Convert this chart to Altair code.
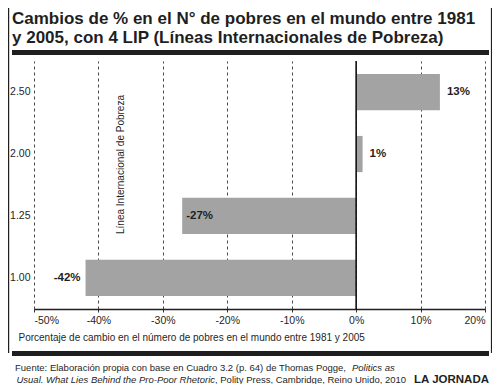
import altair as alt
import pandas as pd

# ---------------- data ----------------
lineas = ["2.50", "2.00", "1.25", "1.00"]
cambios = [13, 1, -27, -42]
posicion = ["fuera_der", "fuera_der", "dentro", "fuera_izq"]
x_ticks = [-50, -40, -30, -20, -10, 0, 10, 20]

titulo = ["Cambios de % en el N° de pobres en el mundo entre 1981",
          "y 2005, con 4 LIP (Líneas Internacionales de Pobreza)"]
eje_x = "Porcentaje de cambio en el número de pobres en el mundo entre 1981 y 2005"
eje_y = "Línea Internacional de Pobreza"
fuente_1a = "Fuente: Elaboración propia con base en Cuadro 3.2 (p. 64) de Thomas Pogge,"
fuente_1b = "Politics as"
fuente_2a = "Usual. What Lies Behind the Pro-Poor Rhetoric"
fuente_2b = ", Polity Press, Cambridge, Reino Unido, 2010"
credito = "LA JORNADA"

df = pd.DataFrame({
    "linea": lineas,
    "cambio": cambios,
    "pos": posicion,
    "etiqueta": [f"{v}%" for v in cambios],
})
one = pd.DataFrame({"k": [0]})

FONT = "Liberation Sans"
INK = "#1f1f1f"
W, H = 451, 248

xs = alt.Scale(domain=[-50, 20], nice=False, zero=False)
ys = alt.Scale(domain=lineas, paddingInner=0.415, paddingOuter=0.21)

x_axis = alt.Axis(
    values=x_ticks, labelExpr="datum.value + '%'", title=eje_x,
    grid=True, gridDash=[3, 3], gridColor="#333333", gridWidth=0.9,
    domainColor=INK, domainWidth=1.5, tickColor="#333333", tickSize=3,
    labelPadding=3, labelFont=FONT, labelFontSize=10.5, labelColor=INK,
    titleFont=FONT, titleFontSize=10, titleFontWeight="normal", titleColor=INK,
    titleAnchor="start", titleAlign="left", titleBaseline="alphabetic",
    titleX=-16, titleY=31,
)
y_axis = alt.Axis(
    title=eje_y, domain=False, ticks=False, grid=False, labelPadding=4,
    labelFont=FONT, labelFontSize=10.5, labelColor=INK,
    titleFont=FONT, titleFontSize=10, titleFontWeight="normal", titleColor=INK,
    titleAngle=270, titleAlign="center", titleBaseline="middle",
    titleX=86, titleY=103,
)

x_enc = alt.X("cambio:Q", scale=xs, axis=x_axis)
y_enc = alt.Y("linea:N", scale=ys, sort=lineas, axis=y_axis)

bars = alt.Chart(df).mark_bar(color="#a3a3a3").encode(x=x_enc, y=y_enc)

zero = alt.Chart(one).mark_rule(color="#111111", strokeWidth=1.6).encode(
    x=alt.X(datum=0, type="quantitative", scale=xs, axis=x_axis)
)

lab_style = dict(baseline="middle", font=FONT, fontSize=11.5, fontWeight="bold", color=INK)
lab_r = alt.Chart(df).transform_filter(alt.datum.pos == "fuera_der").mark_text(
    align="left", dx=7, **lab_style).encode(x=x_enc, y=y_enc, text="etiqueta:N")
lab_in = alt.Chart(df).transform_filter(alt.datum.pos == "dentro").mark_text(
    align="left", dx=4, **lab_style).encode(x=x_enc, y=y_enc, text="etiqueta:N")
lab_l = alt.Chart(df).transform_filter(alt.datum.pos == "fuera_izq").mark_text(
    align="right", dx=-5, **lab_style).encode(x=x_enc, y=y_enc, text="etiqueta:N")

# ---------------- decoration (frame rules) ----------------
top_rule = alt.Chart(one).mark_rule(color=INK, strokeWidth=5).encode(
    x=alt.value(-22), x2=alt.value(455), y=alt.value(-8.5))
bottom_rule = alt.Chart(one).mark_rule(color=INK, strokeWidth=5).encode(
    x=alt.value(-22), x2=alt.value(455), y=alt.value(292.5))
left_border = alt.Chart(one).mark_rule(color=INK, strokeWidth=1.2).encode(
    x=alt.value(-25.4), y=alt.value(-53), y2=alt.value(292))
right_border = alt.Chart(one).mark_rule(color=INK, strokeWidth=1.2).encode(
    x=alt.value(457.5), y=alt.value(-53), y2=alt.value(292))

src_style = dict(baseline="alphabetic", font=FONT, fontSize=9.5, color=INK)
src1a = alt.Chart(one).mark_text(align="right", **src_style).encode(
    x=alt.value(312), y=alt.value(310), text=alt.value(fuente_1a))
src1b = alt.Chart(one).mark_text(align="left", fontStyle="italic", **src_style).encode(
    x=alt.value(318), y=alt.value(310), text=alt.value(fuente_1b))
src2a = alt.Chart(one).mark_text(align="right", fontStyle="italic", **src_style).encode(
    x=alt.value(181), y=alt.value(322), text=alt.value(fuente_2a))
src2b = alt.Chart(one).mark_text(align="left", **src_style).encode(
    x=alt.value(181), y=alt.value(322), text=alt.value(fuente_2b))
cred = alt.Chart(one).mark_text(align="right", baseline="alphabetic", font=FONT,
                                fontSize=11.5, fontWeight="bold", color=INK).encode(
    x=alt.value(455), y=alt.value(322), text=alt.value(credito))

chart = alt.layer(
    bars, zero, lab_r, lab_in, lab_l,
    top_rule, bottom_rule, left_border, right_border,
    src1a, src1b, src2a, src2b, cred,
).properties(
    width=W, height=H,
    padding={"left": 26, "top": 53, "right": 7, "bottom": 75},
    autosize=alt.AutoSizeParams(type="none"),
    background="white",
    title=alt.TitleParams(
        text=titulo, font=FONT, fontSize=17, fontWeight="bold", color=INK,
        anchor="start", frame="group", dx=-22, dy=43.6, lineHeight=19, offset=4,
    ),
).configure_view(stroke="transparent")

chart.save("out.html", embed_options={"renderer": "svg", "actions": False})
